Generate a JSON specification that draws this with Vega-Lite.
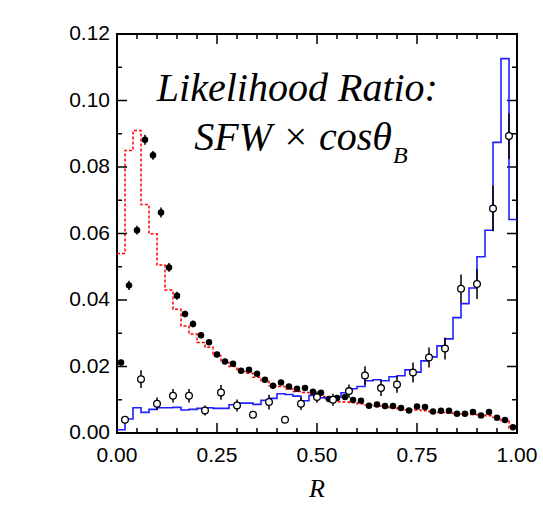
{
  "$schema": "https://vega.github.io/schema/vega-lite/v6.json",
  "width": 400,
  "height": 399,
  "autosize": {"type": "none"},
  "padding": {"left": 117, "top": 34, "right": 26, "bottom": 95},
  "background": "white",
  "config": {
    "view": {"stroke": "black", "strokeWidth": 2}
  },
  "datasets": {
    "xt": [
      {"t": 0, "kind": "major"}, {"t": 0.25, "kind": "major"}, {"t": 0.5, "kind": "major"}, {"t": 0.75, "kind": "major"}, {"t": 1, "kind": "major"},
      {"t": 0.05, "kind": "minor"}, {"t": 0.1, "kind": "minor"}, {"t": 0.15, "kind": "minor"}, {"t": 0.2, "kind": "minor"},
      {"t": 0.3, "kind": "minor"}, {"t": 0.35, "kind": "minor"}, {"t": 0.4, "kind": "minor"}, {"t": 0.45, "kind": "minor"},
      {"t": 0.55, "kind": "minor"}, {"t": 0.6, "kind": "minor"}, {"t": 0.65, "kind": "minor"}, {"t": 0.7, "kind": "minor"},
      {"t": 0.8, "kind": "minor"}, {"t": 0.85, "kind": "minor"}, {"t": 0.9, "kind": "minor"}, {"t": 0.95, "kind": "minor"}
    ],
    "yt": [
      {"t": 0, "kind": "major"}, {"t": 0.02, "kind": "major"}, {"t": 0.04, "kind": "major"}, {"t": 0.06, "kind": "major"},
      {"t": 0.08, "kind": "major"}, {"t": 0.1, "kind": "major"}, {"t": 0.12, "kind": "major"},
      {"t": 0.01, "kind": "minor"}, {"t": 0.03, "kind": "minor"}, {"t": 0.05, "kind": "minor"}, {"t": 0.07, "kind": "minor"},
      {"t": 0.09, "kind": "minor"}, {"t": 0.11, "kind": "minor"}
    ],
    "red": [
      {"R": 0.00, "v": 0.0540}, {"R": 0.02, "v": 0.0850}, {"R": 0.04, "v": 0.0910}, {"R": 0.06, "v": 0.0687},
      {"R": 0.08, "v": 0.0599}, {"R": 0.10, "v": 0.0505}, {"R": 0.12, "v": 0.0430}, {"R": 0.14, "v": 0.0372},
      {"R": 0.16, "v": 0.0322}, {"R": 0.18, "v": 0.0298}, {"R": 0.20, "v": 0.0272}, {"R": 0.22, "v": 0.0258},
      {"R": 0.24, "v": 0.0232}, {"R": 0.26, "v": 0.0212}, {"R": 0.28, "v": 0.0200}, {"R": 0.30, "v": 0.0185},
      {"R": 0.32, "v": 0.0180}, {"R": 0.34, "v": 0.0168}, {"R": 0.36, "v": 0.0155}, {"R": 0.38, "v": 0.0142},
      {"R": 0.40, "v": 0.0140}, {"R": 0.42, "v": 0.0132}, {"R": 0.44, "v": 0.0125}, {"R": 0.46, "v": 0.0122},
      {"R": 0.48, "v": 0.0116}, {"R": 0.50, "v": 0.0110}, {"R": 0.52, "v": 0.0104}, {"R": 0.54, "v": 0.0094},
      {"R": 0.56, "v": 0.0093}, {"R": 0.58, "v": 0.0092}, {"R": 0.60, "v": 0.0088}, {"R": 0.62, "v": 0.0084},
      {"R": 0.64, "v": 0.0081}, {"R": 0.66, "v": 0.0078}, {"R": 0.68, "v": 0.0076}, {"R": 0.70, "v": 0.0073},
      {"R": 0.72, "v": 0.0070}, {"R": 0.74, "v": 0.0069}, {"R": 0.76, "v": 0.0067}, {"R": 0.78, "v": 0.0064},
      {"R": 0.80, "v": 0.0062}, {"R": 0.82, "v": 0.0060}, {"R": 0.84, "v": 0.0058}, {"R": 0.86, "v": 0.0057},
      {"R": 0.88, "v": 0.0056}, {"R": 0.90, "v": 0.0055}, {"R": 0.92, "v": 0.0052}, {"R": 0.94, "v": 0.0047},
      {"R": 0.96, "v": 0.0037}, {"R": 0.98, "v": 0.0015}, {"R": 1.00, "v": 0.0015}
    ],
    "blue": [
      {"R": 0.00, "v": 0.0010}, {"R": 0.02, "v": 0.0042}, {"R": 0.04, "v": 0.0076}, {"R": 0.06, "v": 0.0062},
      {"R": 0.08, "v": 0.0071}, {"R": 0.10, "v": 0.0076}, {"R": 0.12, "v": 0.0076}, {"R": 0.14, "v": 0.0077},
      {"R": 0.16, "v": 0.0069}, {"R": 0.18, "v": 0.0071}, {"R": 0.20, "v": 0.0074}, {"R": 0.22, "v": 0.0076},
      {"R": 0.24, "v": 0.0074}, {"R": 0.26, "v": 0.0074}, {"R": 0.28, "v": 0.0085}, {"R": 0.30, "v": 0.0090},
      {"R": 0.32, "v": 0.0090}, {"R": 0.34, "v": 0.0086}, {"R": 0.36, "v": 0.0098}, {"R": 0.38, "v": 0.0104},
      {"R": 0.40, "v": 0.0118}, {"R": 0.42, "v": 0.0116}, {"R": 0.44, "v": 0.0111}, {"R": 0.46, "v": 0.0097},
      {"R": 0.48, "v": 0.0113}, {"R": 0.50, "v": 0.0106}, {"R": 0.52, "v": 0.0104}, {"R": 0.54, "v": 0.0108},
      {"R": 0.56, "v": 0.0121}, {"R": 0.58, "v": 0.0133}, {"R": 0.60, "v": 0.0140}, {"R": 0.62, "v": 0.0157},
      {"R": 0.64, "v": 0.0160}, {"R": 0.66, "v": 0.0157}, {"R": 0.68, "v": 0.0169}, {"R": 0.70, "v": 0.0172},
      {"R": 0.72, "v": 0.0190}, {"R": 0.74, "v": 0.0183}, {"R": 0.76, "v": 0.0217}, {"R": 0.78, "v": 0.0229},
      {"R": 0.80, "v": 0.0262}, {"R": 0.82, "v": 0.0283}, {"R": 0.84, "v": 0.0347}, {"R": 0.86, "v": 0.0389},
      {"R": 0.88, "v": 0.0436}, {"R": 0.90, "v": 0.0530}, {"R": 0.92, "v": 0.0610}, {"R": 0.94, "v": 0.0874},
      {"R": 0.96, "v": 0.1126}, {"R": 0.98, "v": 0.0642}, {"R": 1.00, "v": 0.0642}
    ],
    "filled": [
      {"R": 0.01, "v": 0.0212, "lo": 0.0204, "hi": 0.0220}, {"R": 0.03, "v": 0.0444, "lo": 0.0430, "hi": 0.0458},
      {"R": 0.05, "v": 0.0610, "lo": 0.0597, "hi": 0.0623}, {"R": 0.07, "v": 0.0882, "lo": 0.0867, "hi": 0.0897},
      {"R": 0.09, "v": 0.0835, "lo": 0.0822, "hi": 0.0848}, {"R": 0.11, "v": 0.0663, "lo": 0.0648, "hi": 0.0678},
      {"R": 0.13, "v": 0.0498, "lo": 0.0485, "hi": 0.0511}, {"R": 0.15, "v": 0.0413, "lo": 0.0401, "hi": 0.0425},
      {"R": 0.17, "v": 0.0358, "lo": 0.0348, "hi": 0.0368}, {"R": 0.19, "v": 0.0328, "lo": 0.0318, "hi": 0.0338},
      {"R": 0.21, "v": 0.0294, "lo": 0.0285, "hi": 0.0303}, {"R": 0.23, "v": 0.0273, "lo": 0.0264, "hi": 0.0282},
      {"R": 0.25, "v": 0.0236, "lo": 0.0228, "hi": 0.0244}, {"R": 0.27, "v": 0.0215, "lo": 0.0207, "hi": 0.0223},
      {"R": 0.29, "v": 0.0208, "lo": 0.0200, "hi": 0.0216}, {"R": 0.31, "v": 0.0187, "lo": 0.0179, "hi": 0.0195},
      {"R": 0.33, "v": 0.0190, "lo": 0.0182, "hi": 0.0198}, {"R": 0.35, "v": 0.0178, "lo": 0.0171, "hi": 0.0185},
      {"R": 0.37, "v": 0.0160, "lo": 0.0153, "hi": 0.0167}, {"R": 0.39, "v": 0.0142, "lo": 0.0135, "hi": 0.0149},
      {"R": 0.41, "v": 0.0152, "lo": 0.0145, "hi": 0.0159}, {"R": 0.43, "v": 0.0140, "lo": 0.0133, "hi": 0.0147},
      {"R": 0.45, "v": 0.0133, "lo": 0.0126, "hi": 0.0140}, {"R": 0.47, "v": 0.0135, "lo": 0.0128, "hi": 0.0142},
      {"R": 0.49, "v": 0.0124, "lo": 0.0118, "hi": 0.0130}, {"R": 0.51, "v": 0.0121, "lo": 0.0115, "hi": 0.0127},
      {"R": 0.53, "v": 0.0102, "lo": 0.0096, "hi": 0.0108}, {"R": 0.55, "v": 0.0105, "lo": 0.0099, "hi": 0.0111},
      {"R": 0.57, "v": 0.0108, "lo": 0.0102, "hi": 0.0114}, {"R": 0.59, "v": 0.0099, "lo": 0.0093, "hi": 0.0105},
      {"R": 0.61, "v": 0.0097, "lo": 0.0091, "hi": 0.0103}, {"R": 0.63, "v": 0.0082, "lo": 0.0076, "hi": 0.0088},
      {"R": 0.65, "v": 0.0086, "lo": 0.0080, "hi": 0.0092}, {"R": 0.67, "v": 0.0081, "lo": 0.0075, "hi": 0.0087},
      {"R": 0.69, "v": 0.0081, "lo": 0.0075, "hi": 0.0087}, {"R": 0.71, "v": 0.0075, "lo": 0.0070, "hi": 0.0080},
      {"R": 0.73, "v": 0.0068, "lo": 0.0063, "hi": 0.0073}, {"R": 0.75, "v": 0.0080, "lo": 0.0075, "hi": 0.0085},
      {"R": 0.77, "v": 0.0078, "lo": 0.0073, "hi": 0.0083}, {"R": 0.79, "v": 0.0065, "lo": 0.0060, "hi": 0.0070},
      {"R": 0.81, "v": 0.0067, "lo": 0.0062, "hi": 0.0072}, {"R": 0.83, "v": 0.0067, "lo": 0.0062, "hi": 0.0072},
      {"R": 0.85, "v": 0.0058, "lo": 0.0053, "hi": 0.0063}, {"R": 0.87, "v": 0.0058, "lo": 0.0053, "hi": 0.0063},
      {"R": 0.89, "v": 0.0063, "lo": 0.0058, "hi": 0.0068}, {"R": 0.91, "v": 0.0053, "lo": 0.0048, "hi": 0.0058},
      {"R": 0.93, "v": 0.0063, "lo": 0.0058, "hi": 0.0068}, {"R": 0.95, "v": 0.0046, "lo": 0.0041, "hi": 0.0051},
      {"R": 0.97, "v": 0.0039, "lo": 0.0034, "hi": 0.0044}, {"R": 0.99, "v": 0.0017, "lo": 0.0012, "hi": 0.0022}
    ],
    "open": [
      {"R": 0.02, "v": 0.0040, "lo": 0.0030, "hi": 0.0050}, {"R": 0.06, "v": 0.0162, "lo": 0.0135, "hi": 0.0189},
      {"R": 0.10, "v": 0.0088, "lo": 0.0069, "hi": 0.0107}, {"R": 0.14, "v": 0.0112, "lo": 0.0092, "hi": 0.0132},
      {"R": 0.18, "v": 0.0112, "lo": 0.0092, "hi": 0.0132}, {"R": 0.22, "v": 0.0068, "lo": 0.0053, "hi": 0.0083},
      {"R": 0.26, "v": 0.0122, "lo": 0.0100, "hi": 0.0144}, {"R": 0.30, "v": 0.0083, "lo": 0.0065, "hi": 0.0101},
      {"R": 0.34, "v": 0.0055, "lo": 0.0045, "hi": 0.0065}, {"R": 0.38, "v": 0.0093, "lo": 0.0071, "hi": 0.0115},
      {"R": 0.42, "v": 0.0040, "lo": 0.0032, "hi": 0.0048}, {"R": 0.46, "v": 0.0088, "lo": 0.0069, "hi": 0.0107},
      {"R": 0.50, "v": 0.0108, "lo": 0.0091, "hi": 0.0125}, {"R": 0.54, "v": 0.0100, "lo": 0.0082, "hi": 0.0118},
      {"R": 0.58, "v": 0.0126, "lo": 0.0106, "hi": 0.0146}, {"R": 0.62, "v": 0.0173, "lo": 0.0145, "hi": 0.0201},
      {"R": 0.66, "v": 0.0135, "lo": 0.0111, "hi": 0.0159}, {"R": 0.70, "v": 0.0146, "lo": 0.0121, "hi": 0.0171},
      {"R": 0.74, "v": 0.0182, "lo": 0.0152, "hi": 0.0212}, {"R": 0.78, "v": 0.0227, "lo": 0.0197, "hi": 0.0257},
      {"R": 0.82, "v": 0.0254, "lo": 0.0221, "hi": 0.0287}, {"R": 0.86, "v": 0.0434, "lo": 0.0391, "hi": 0.0477},
      {"R": 0.90, "v": 0.0448, "lo": 0.0403, "hi": 0.0493}, {"R": 0.94, "v": 0.0675, "lo": 0.0607, "hi": 0.0743},
      {"R": 0.98, "v": 0.0893, "lo": 0.0825, "hi": 0.0961}
    ]
  },
  "layer": [
    {
      "data": {"name": "red"},
      "mark": {"type": "line", "interpolate": "step-after", "color": "#ff0000", "strokeDash": [3, 2], "strokeWidth": 1.5},
      "encoding": {
        "x": {"field": "R", "type": "quantitative", "scale": {"domain": [0, 1], "nice": false, "zero": false}, "axis": null},
        "y": {"field": "v", "type": "quantitative", "scale": {"domain": [0, 0.12], "nice": false}, "axis": null}
      }
    },
    {
      "data": {"name": "xt"},
      "transform": [{"filter": "datum.kind === 'major'"}],
      "mark": {"type": "rule", "color": "black", "strokeWidth": 1.5},
      "encoding": {
        "x": {"field": "t", "type": "quantitative", "axis": null},
        "y": {"datum": 0, "type": "quantitative", "axis": null},
        "y2": {"datum": 0.003}
      }
    },
    {
      "data": {"name": "xt"},
      "transform": [{"filter": "datum.kind === 'minor'"}],
      "mark": {"type": "rule", "color": "black", "strokeWidth": 1.5},
      "encoding": {
        "x": {"field": "t", "type": "quantitative", "axis": null},
        "y": {"datum": 0, "type": "quantitative", "axis": null},
        "y2": {"datum": 0.0015}
      }
    },
    {
      "data": {"name": "xt"},
      "transform": [{"filter": "datum.kind === 'major'"}],
      "mark": {"type": "rule", "color": "black", "strokeWidth": 1.5},
      "encoding": {
        "x": {"field": "t", "type": "quantitative", "axis": null},
        "y": {"datum": 0.12, "type": "quantitative", "axis": null},
        "y2": {"datum": 0.117}
      }
    },
    {
      "data": {"name": "xt"},
      "transform": [{"filter": "datum.kind === 'minor'"}],
      "mark": {"type": "rule", "color": "black", "strokeWidth": 1.5},
      "encoding": {
        "x": {"field": "t", "type": "quantitative", "axis": null},
        "y": {"datum": 0.12, "type": "quantitative", "axis": null},
        "y2": {"datum": 0.1185}
      }
    },
    {
      "data": {"name": "yt"},
      "transform": [{"filter": "datum.kind === 'major'"}],
      "mark": {"type": "rule", "color": "black", "strokeWidth": 1.5},
      "encoding": {
        "y": {"field": "t", "type": "quantitative", "axis": null},
        "x": {"datum": 0, "type": "quantitative", "axis": null},
        "x2": {"datum": 0.025}
      }
    },
    {
      "data": {"name": "yt"},
      "transform": [{"filter": "datum.kind === 'minor'"}],
      "mark": {"type": "rule", "color": "black", "strokeWidth": 1.5},
      "encoding": {
        "y": {"field": "t", "type": "quantitative", "axis": null},
        "x": {"datum": 0, "type": "quantitative", "axis": null},
        "x2": {"datum": 0.0125}
      }
    },
    {
      "data": {"name": "yt"},
      "transform": [{"filter": "datum.kind === 'major'"}],
      "mark": {"type": "rule", "color": "black", "strokeWidth": 1.5},
      "encoding": {
        "y": {"field": "t", "type": "quantitative", "axis": null},
        "x": {"datum": 1, "type": "quantitative", "axis": null},
        "x2": {"datum": 0.975}
      }
    },
    {
      "data": {"name": "yt"},
      "transform": [{"filter": "datum.kind === 'minor'"}],
      "mark": {"type": "rule", "color": "black", "strokeWidth": 1.5},
      "encoding": {
        "y": {"field": "t", "type": "quantitative", "axis": null},
        "x": {"datum": 1, "type": "quantitative", "axis": null},
        "x2": {"datum": 0.9875}
      }
    },
    {
      "data": {"name": "xt"},
      "transform": [{"filter": "datum.kind === 'major'"}],
      "mark": {"type": "text", "font": "Liberation Sans", "fontSize": 21, "align": "center", "baseline": "top", "dy": 12, "color": "black"},
      "encoding": {
        "x": {"field": "t", "type": "quantitative", "axis": null},
        "y": {"datum": 0, "type": "quantitative", "axis": null},
        "text": {"field": "t", "type": "quantitative", "format": ".2f"}
      }
    },
    {
      "data": {"name": "yt"},
      "transform": [{"filter": "datum.kind === 'major'"}],
      "mark": {"type": "text", "font": "Liberation Sans", "fontSize": 21, "align": "right", "baseline": "middle", "dx": -7, "color": "black"},
      "encoding": {
        "y": {"field": "t", "type": "quantitative", "axis": null},
        "x": {"datum": 0, "type": "quantitative", "axis": null},
        "text": {"field": "t", "type": "quantitative", "format": ".2f"}
      }
    },
    {
      "data": {"values": [{"label": "R", "R": 0.5, "v": 0}]},
      "mark": {"type": "text", "font": "Liberation Serif", "fontStyle": "italic", "fontSize": 26, "align": "center", "baseline": "alphabetic", "dy": 64, "color": "black"},
      "encoding": {
        "x": {"field": "R", "type": "quantitative", "axis": null},
        "y": {"field": "v", "type": "quantitative", "axis": null},
        "text": {"field": "label"}
      }
    },
    {
      "data": {"name": "blue"},
      "mark": {"type": "line", "interpolate": "step-after", "color": "#2020ff", "strokeWidth": 1.6},
      "encoding": {
        "x": {"field": "R", "type": "quantitative", "axis": null},
        "y": {"field": "v", "type": "quantitative", "axis": null}
      }
    },
    {
      "data": {"name": "filled"},
      "mark": {"type": "rule", "color": "black", "strokeWidth": 1.5},
      "encoding": {
        "x": {"field": "R", "type": "quantitative", "axis": null},
        "y": {"field": "lo", "type": "quantitative", "axis": null},
        "y2": {"field": "hi"}
      }
    },
    {
      "data": {"name": "filled"},
      "mark": {"type": "circle", "color": "black", "size": 42, "opacity": 1},
      "encoding": {
        "x": {"field": "R", "type": "quantitative", "axis": null},
        "y": {"field": "v", "type": "quantitative", "axis": null}
      }
    },
    {
      "data": {"name": "open"},
      "mark": {"type": "rule", "color": "black", "strokeWidth": 1.5},
      "encoding": {
        "x": {"field": "R", "type": "quantitative", "axis": null},
        "y": {"field": "lo", "type": "quantitative", "axis": null},
        "y2": {"field": "hi"}
      }
    },
    {
      "data": {"name": "open"},
      "mark": {"type": "point", "shape": "circle", "fill": "white", "stroke": "black", "strokeWidth": 1.3, "size": 45, "opacity": 1, "filled": false},
      "encoding": {
        "x": {"field": "R", "type": "quantitative", "axis": null},
        "y": {"field": "v", "type": "quantitative", "axis": null}
      }
    },
    {
      "data": {"values": [{"label": "Likelihood Ratio:", "R": 0.451, "v": 0.1}]},
      "mark": {"type": "text", "font": "Liberation Serif", "fontStyle": "italic", "fontSize": 40, "align": "center", "baseline": "alphabetic", "color": "black"},
      "encoding": {
        "x": {"field": "R", "type": "quantitative", "axis": null},
        "y": {"field": "v", "type": "quantitative", "axis": null},
        "text": {"field": "label"}
      }
    },
    {
      "data": {"values": [{"label": "SFW × cosθ", "R": 0.6875, "v": 0.0851}]},
      "mark": {"type": "text", "font": "Liberation Serif", "fontStyle": "italic", "fontSize": 40, "align": "right", "baseline": "alphabetic", "color": "black"},
      "encoding": {
        "x": {"field": "R", "type": "quantitative", "axis": null},
        "y": {"field": "v", "type": "quantitative", "axis": null},
        "text": {"field": "label"}
      }
    },
    {
      "data": {"values": [{"label": "B", "R": 0.69, "v": 0.0812}]},
      "mark": {"type": "text", "font": "Liberation Serif", "fontStyle": "italic", "fontSize": 24, "align": "left", "baseline": "alphabetic", "color": "black"},
      "encoding": {
        "x": {"field": "R", "type": "quantitative", "axis": null},
        "y": {"field": "v", "type": "quantitative", "axis": null},
        "text": {"field": "label"}
      }
    }
  ]
}
